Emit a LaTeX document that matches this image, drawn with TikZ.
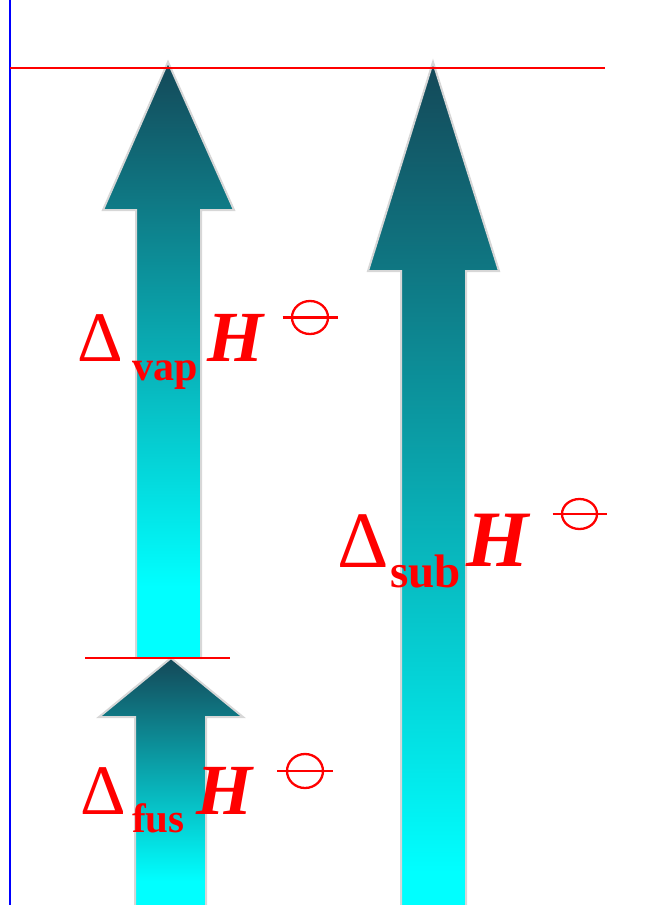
\documentclass[tikz,border=0pt]{standalone}
\usepackage{fontspec}
\setmainfont{Liberation Serif}
\definecolor{dk}{RGB}{20,72,88}
\definecolor{edge}{RGB}{215,215,215}
\pgfdeclareverticalshading{vapsh}{100bp}{color(0bp)=(cyan); color(31bp)=(cyan); color(75bp)=(dk); color(100bp)=(dk)}
\pgfdeclareverticalshading{subsh}{100bp}{color(0bp)=(cyan); color(27bp)=(cyan); color(75bp)=(dk); color(100bp)=(dk)}
\pgfdeclareverticalshading{fussh}{100bp}{color(0bp)=(cyan); color(30bp)=(cyan); color(75bp)=(dk); color(100bp)=(dk)}
\tikzset{
  arrowshape/.style={draw=edge, line width=2pt, line join=miter},
  redline/.style={draw=red, line width=2pt},
  lbl/.style={inner sep=0pt, anchor=base west, text=red},
  plimline/.style={draw=red, line width=2.3pt},
}
\newcommand{\plim}[5]{% cx, cy, half line length, rx, ry
  \draw[plimline] (#1-#3,#2) -- (#1+#3,#2);
  \draw[plimline] (#1,#2) ellipse [x radius=#4, y radius=#5];
}
\begin{document}
\begin{tikzpicture}[x=1pt,y=-1pt]
\useasboundingbox (0,0) rectangle (652,905);
% arrows
\path[arrowshape, shading=vapsh] (168,62) -- (234,210) -- (201,210) -- (201,658) -- (136,658) -- (136,210) -- (103,210) -- cycle;
\path[arrowshape, shading=subsh] (433,62) -- (499,271) -- (466,271) -- (466,906) -- (401,906) -- (401,271) -- (368,271) -- cycle;
\path[arrowshape, shading=fussh] (171,658) -- (243,717) -- (206,717) -- (206,906) -- (135,906) -- (135,717) -- (99,717) -- cycle;
% lines
\draw[blue, line width=2pt] (10,0) -- (10,905);
\draw[redline] (10,68) -- (605,68);
\draw[redline] (85,658) -- (230,658);
% vap label
\node[lbl, font=\fontsize{71}{71}\selectfont] (dvap) at (77,361) {Δ};
\node[lbl, font=\fontsize{42}{42}\selectfont\bfseries] (svap) at (132,380) {vap};
\node[lbl, font=\fontsize{72}{72}\selectfont\bfseries\itshape] (hvap) at (207,361) {H};
\plim{310}{317.5}{27.5}{18}{16.5}
% sub label
\node[lbl, font=\fontsize{80}{80}\selectfont] (dsub) at (337,567) {Δ};
\node[lbl, font=\fontsize{47}{47}\selectfont\bfseries] (ssub) at (390,587) {sub};
\node[lbl, font=\fontsize{80}{80}\selectfont\bfseries\itshape] (hsub) at (466,566) {H};
\plim{579.5}{514}{27}{17.5}{15}
% fus label
\node[lbl, font=\fontsize{71}{71}\selectfont] (dfus) at (80,814) {Δ};
\node[lbl, font=\fontsize{41}{41}\selectfont\bfseries] (sfus) at (132,832) {fus};
\node[lbl, font=\fontsize{72}{72}\selectfont\bfseries\itshape] (hfus) at (196,814) {H};
\plim{305}{771}{28}{18}{17}
\end{tikzpicture}
\end{document}
